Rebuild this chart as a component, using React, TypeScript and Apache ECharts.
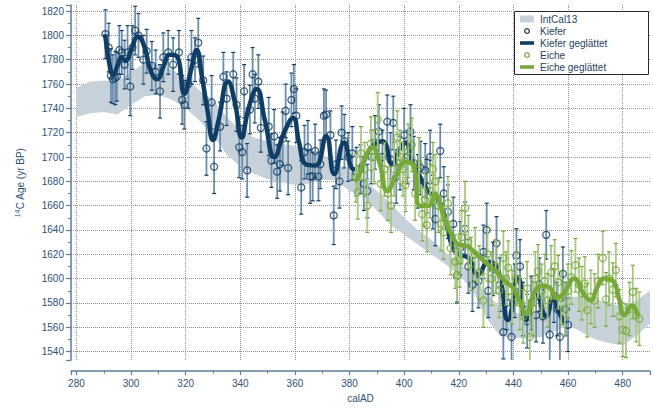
import React, { useEffect, useRef } from "react";
import * as echarts from "echarts";

// IntCal13 band
const bandYears = [280, 285, 290, 295, 300, 305, 310, 315, 320, 325, 330, 335, 340, 345, 350, 355, 360, 365, 370, 375, 380, 385, 390, 395, 400, 405, 410, 415, 420, 425, 430, 435, 440, 445, 450, 455, 460, 465, 470, 475, 480, 485, 490];
const bandLower = [1733, 1736, 1737, 1735, 1743, 1750, 1751, 1747, 1740, 1730, 1718, 1702, 1692, 1686, 1682, 1679, 1677, 1678, 1681, 1681, 1672, 1668, 1656, 1644, 1636, 1628, 1620, 1612, 1603, 1591, 1568, 1553, 1551, 1551, 1552, 1557, 1562, 1556, 1550, 1547, 1545, 1553, 1563];
const bandUpper = [1757, 1762, 1763, 1762, 1770, 1777, 1776, 1772, 1765, 1755, 1747, 1733, 1722, 1716, 1713, 1711, 1709, 1706, 1702, 1695, 1688, 1682, 1672, 1662, 1650, 1640, 1632, 1622, 1613, 1604, 1588, 1577, 1572, 1571, 1575, 1580, 1585, 1585, 1583, 1580, 1577, 1582, 1590];

// Kiefer (pine) measurements
const kieferYears = [290.6, 291.8, 292.6, 293.3, 294.2, 294.8, 295.7, 296.6, 297.6, 298.7, 299.7, 300.5, 301.5, 302.7, 304.5, 305.7, 307.6, 309.0, 310.6, 311.8, 313.6, 315.4, 317.5, 318.7, 319.5, 321.0, 322.1, 323.4, 324.6, 326.4, 327.6, 329.5, 330.4,
  332.6, 333.8, 335.0, 337.4, 338.6, 339.6, 340.7, 341.4, 342.5, 343.5, 344.5, 345.3, 346.6, 347.5, 350.4, 351.4, 352.4, 353.5, 354.5, 355.5, 356.6, 357.5, 358.7, 359.6, 360.5, 362.3, 363.5, 364.7, 365.6, 366.5, 367.4, 368.6, 369.3, 370.6, 371.4, 373.0, 374.2, 375.0, 376.3, 377.1, 378.1,
  379.5, 381.0, 382.5, 384.0, 385.2, 386.5, 388.0, 389.3, 390.7, 392.0, 393.8, 395.0, 396.0, 397.1, 398.5, 400.0, 401.2, 402.3, 403.5, 405.0, 406.0, 407.7, 408.3, 409.5, 410.5, 411.4, 413.2, 414.5, 416.0, 418.0,
  419.3, 420.5, 422.3, 423.5, 425.0, 427.2, 429.0, 430.2, 430.8, 432.5, 433.8, 435.0, 436.3, 437.5, 439.3, 440.5, 441.1, 442.4, 443.5, 445.0, 446.5, 448.3, 449.5, 450.8, 452.0, 453.3, 454.8, 456.0, 457.0, 458.1, 459.2, 460.0];
const kieferAges = [1801, 1790, 1767, 1764, 1765, 1766, 1788, 1786, 1776, 1786, 1758, 1790, 1804, 1800, 1780, 1787, 1775, 1770, 1754, 1782, 1786, 1776, 1786, 1747, 1743, 1760, 1782, 1780, 1794, 1763, 1707, 1745, 1692,
  1725, 1766, 1748, 1768, 1743, 1708, 1704, 1754, 1689, 1739, 1768, 1748, 1762, 1724, 1725, 1697, 1717, 1688, 1694, 1715, 1738, 1691, 1747, 1756, 1734, 1675, 1704, 1708, 1684, 1684, 1705, 1684, 1694, 1734, 1735, 1718, 1652, 1694, 1680, 1720, 1713,
  1700, 1703, 1688, 1690, 1678, 1672, 1700, 1712, 1721, 1700, 1729, 1698, 1728, 1684, 1695, 1718, 1700, 1721, 1695, 1680, 1691, 1689, 1676, 1700, 1663, 1649, 1705, 1670, 1655, 1645,
  1602, 1625, 1641, 1610, 1595, 1598, 1622, 1640, 1590, 1608, 1629, 1595, 1556, 1580, 1552, 1590, 1619, 1610, 1575, 1565, 1580, 1570, 1595, 1569, 1636, 1554, 1586, 1575, 1552, 1604, 1575, 1562];
const kieferErrs = [20, 20, 22, 20, 22, 20, 20, 18, 20, 22, 24, 18, 20, 18, 20, 18, 20, 18, 22, 20, 18, 22, 18, 20, 20, 20, 22, 18, 20, 20, 22, 22, 22,
  20, 20, 22, 18, 22, 25, 22, 22, 22, 20, 22, 20, 22, 20, 24, 22, 22, 22, 22, 22, 22, 22, 22, 20, 22, 22, 22, 22, 22, 20, 22, 20, 20, 22, 20, 20, 24, 20, 22, 22, 22,
  20, 22, 20, 20, 22, 22, 22, 22, 22, 22, 22, 22, 22, 22, 22, 22, 22, 22, 22, 22, 22, 22, 22, 22, 22, 22, 22, 22, 22, 22,
  22, 22, 22, 22, 22, 22, 22, 22, 22, 22, 22, 22, 22, 22, 22, 22, 22, 22, 22, 22, 22, 22, 22, 22, 20, 22, 22, 22, 22, 22, 22, 22];

// Kiefer smoothed
const kieferSmoothYears = [290.5, 292.5, 293.5, 295, 296.5, 298, 300, 302.5, 305, 307, 309.5, 312, 314, 316.7, 319.5, 322, 324, 326, 328, 330, 332, 335.5, 338, 340.5, 343, 346, 349, 352.5, 356, 359.3, 361.5, 364, 367.5, 371.4, 374.4, 378, 381.6, 384, 388, 392, 395.6, 398, 400.5, 403, 406.5, 409, 411.5, 413.5, 415.6, 418.7, 423.5, 427, 430.8, 434.5, 438, 441.7, 444.7, 448.3, 452, 454.5, 456.3, 459];
const kieferSmoothAges = [1801, 1771, 1768, 1775, 1782, 1779, 1788, 1799, 1790, 1772, 1764, 1775, 1784, 1783, 1752, 1772, 1788, 1765, 1738, 1714, 1730, 1762, 1745, 1716, 1740, 1756, 1730, 1700, 1720, 1732, 1712, 1694, 1693, 1717, 1686, 1712, 1690, 1692, 1708, 1713, 1694, 1705, 1712, 1695, 1681, 1671, 1668, 1660, 1644, 1622, 1617, 1603, 1614, 1606, 1566, 1601, 1566, 1587, 1569, 1585, 1574, 1563];

// Eiche (oak) measurements
const eicheYears = [382.3, 383.0, 384.2, 385.5, 386.5, 387.8, 389.0, 390.3, 391.4, 392.8, 394.0, 395.2, 396.3, 397.5, 398.5, 399.5, 400.5, 401.5, 402.8, 404.0, 405.4, 406.6, 407.5, 408.3, 409.5, 410.5, 411.4, 412.5, 413.5, 414.4, 416.0, 417.0, 418.7, 419.3, 420.3, 421.0, 422.3, 423.5, 424.5, 426.0, 427.5, 429.0, 430.5, 432.0, 433.5, 434.8, 436.3, 437.3, 438.1, 439.5, 441.0, 442.3, 443.6, 445.0, 446.0, 447.2, 448.0, 449.0, 450.3, 451.5, 452.5, 453.8, 455.1, 456.4, 457.5, 458.8, 460.0, 461.2, 462.7, 464.0, 465.0, 466.1, 467.0, 468.3, 469.7, 471.0, 472.7, 473.9, 475.0, 476.4, 477.5, 478.8, 480.0, 481.2, 482.5, 483.7, 485.0, 486.1];
const eicheAges = [1683, 1671, 1703, 1690, 1660, 1711, 1700, 1731, 1678, 1690, 1670, 1660, 1690, 1716, 1700, 1690, 1677, 1705, 1710, 1670, 1694, 1653, 1665, 1644, 1672, 1690, 1680, 1660, 1645, 1638, 1662, 1625, 1614, 1603, 1615, 1634, 1658, 1630, 1612, 1620, 1605, 1582, 1620, 1600, 1610, 1590, 1617, 1600, 1609, 1585, 1600, 1580, 1569, 1592, 1552, 1575, 1600, 1606, 1590, 1598, 1582, 1605, 1610, 1597, 1584, 1575, 1590, 1601, 1611, 1595, 1588, 1596, 1574, 1585, 1582, 1598, 1617, 1583, 1600, 1591, 1607, 1569, 1558, 1557, 1575, 1589, 1570, 1567];
const eicheErrs = [20, 22, 22, 22, 22, 22, 22, 22, 22, 22, 22, 22, 22, 22, 22, 22, 22, 22, 22, 22, 22, 22, 22, 22, 22, 22, 22, 22, 22, 22, 22, 22, 22, 22, 22, 22, 22, 22, 22, 22, 22, 22, 22, 22, 22, 22, 22, 22, 22, 22, 22, 22, 22, 22, 22, 22, 22, 22, 22, 22, 22, 22, 22, 22, 22, 22, 22, 22, 22, 22, 22, 22, 22, 22, 22, 22, 22, 22, 22, 22, 22, 22, 22, 22, 22, 22, 22, 22];

// Eiche smoothed
const eicheSmoothYears = [382, 383.5, 385, 388.5, 391, 393.8, 397, 400.5, 403.5, 405.8, 409, 411.4, 414.4, 417, 420, 422.8, 426, 430, 434, 437.4, 440, 442.5, 444.7, 447.5, 450.5, 453, 455.8, 458.5, 462.3, 465.5, 468.4, 470.5, 473.3, 476.5, 478.5, 480.6, 483.5, 485.5];
const eicheSmoothAges = [1680, 1685, 1695, 1708, 1695, 1672, 1684, 1696, 1693, 1660, 1660, 1669, 1652, 1638, 1628, 1627, 1621, 1613, 1605, 1597, 1592, 1580, 1571, 1588, 1594, 1593, 1584, 1588, 1600, 1588, 1582, 1592, 1600, 1598, 1585, 1570, 1578, 1569];

const legendLabels = ["IntCal13", "Kiefer", "Kiefer geglättet", "Eiche", "Eiche geglättet"];

const FONT = "'Liberation Sans', Arial, Helvetica, sans-serif";
const DARK = "#0f3d63";
const DARK_BAR = "#6d8eab";
const GREEN = "#77a83a";
const GREEN_BAR = "#a9c886";
const BAND = "#c7d1d9";
const AXIS = "#5b7d99";
const LABEL = "#2e5274";

function errorBarRender(capColor: string, barColor: string) {
  return (params: any, api: any) => {
    const x = api.value(0);
    const y = api.value(1);
    const e = api.value(2);
    const top = api.coord([x, y + e]);
    const bot = api.coord([x, y - e]);
    const hw = 2;
    return {
      type: "group",
      children: [
        { type: "line", shape: { x1: top[0], y1: top[1], x2: bot[0], y2: bot[1] }, style: { stroke: barColor, lineWidth: 1.8 } },
        { type: "line", shape: { x1: top[0] - hw, y1: top[1], x2: top[0] + hw, y2: top[1] }, style: { stroke: capColor, lineWidth: 1.2 } },
        { type: "line", shape: { x1: bot[0] - hw, y1: bot[1], x2: bot[0] + hw, y2: bot[1] }, style: { stroke: capColor, lineWidth: 1.2 } },
      ],
    };
  };
}

function bandRender(params: any, api: any) {
  if (params.dataIndex !== 0) return null;
  const pts: number[][] = [];
  for (let i = 0; i < bandYears.length; i++) pts.push(api.coord([bandYears[i], bandUpper[i]]));
  for (let i = bandYears.length - 1; i >= 0; i--) pts.push(api.coord([bandYears[i], bandLower[i]]));
  return { type: "polygon", shape: { points: pts }, style: { fill: BAND } };
}

export default function App() {
  const ref = useRef<HTMLDivElement>(null);
  useEffect(() => {
    const chart = echarts.init(ref.current!, null, { renderer: "svg" });

    const bandData = bandYears.map((x, i) => [x, bandLower[i], bandUpper[i]]);
    const kieferData = kieferYears.map((x, i) => [x, kieferAges[i], kieferErrs[i]]);
    const eicheData = eicheYears.map((x, i) => [x, eicheAges[i], eicheErrs[i]]);
    const kieferSmooth = kieferSmoothYears.map((x, i) => [x, kieferSmoothAges[i]]);
    const eicheSmooth = eicheSmoothYears.map((x, i) => [x, eicheSmoothAges[i]]);

    const rowY = [19, 31, 43, 55, 67];
    const legendGraphics: any[] = [
      { type: "rect", z: 100, shape: { x: 514.5, y: 11.5, width: 134, height: 63 }, style: { fill: "#ffffff", stroke: "#2a2a2a", lineWidth: 1 } },
      { type: "rect", z: 101, shape: { x: 520, y: rowY[0] - 3.5, width: 14, height: 7 }, style: { fill: BAND } },
      { type: "circle", z: 101, shape: { cx: 527, cy: rowY[1], r: 2.3 }, style: { fill: "none", stroke: DARK, lineWidth: 1.3 } },
      { type: "rect", z: 101, shape: { x: 520, y: rowY[2] - 1.8, width: 14, height: 3.6 }, style: { fill: DARK } },
      { type: "circle", z: 101, shape: { cx: 527, cy: rowY[3], r: 2.3 }, style: { fill: "none", stroke: GREEN, lineWidth: 1.3 } },
      { type: "rect", z: 101, shape: { x: 520, y: rowY[4] - 1.8, width: 14, height: 3.6 }, style: { fill: GREEN } },
    ];
    legendLabels.forEach((t, i) => {
      legendGraphics.push({
        type: "text", z: 101, x: 540, y: rowY[i],
        style: { text: t, fill: "#1e3f60", font: `10px ${FONT}`, textVerticalAlign: "middle", verticalAlign: "middle" },
      });
    });

    const option: any = {
      animation: false,
      backgroundColor: "#ffffff",
      grid: { left: 71, right: 0, top: 5, bottom: 41, containLabel: false },
      xAxis: {
        type: "value", min: 278, max: 490, minInterval: 20, maxInterval: 20, splitNumber: 10,
        offset: 11,
        axisLine: { show: true, onZero: false, lineStyle: { color: AXIS, width: 1.5 } },
        axisTick: { show: true, length: 4, lineStyle: { color: AXIS, width: 1.2 } },
        minorTick: { show: true, splitNumber: 2, length: 2.5, lineStyle: { color: AXIS, width: 1 } },
        axisLabel: { color: LABEL, fontSize: 10, fontFamily: FONT, margin: 7, formatter: (v: number) => (v % 20 === 0 ? String(v) : "") },
        splitLine: { show: true, showMinLine: false, showMaxLine: false, lineStyle: { type: "dotted", color: "#8c8c8c", width: 1 } },
        name: "calAD", nameLocation: "middle", nameGap: 20,
        nameTextStyle: { color: LABEL, fontSize: 10, fontFamily: FONT },
      },
      yAxis: {
        type: "value", min: 1533, max: 1825, minInterval: 20, maxInterval: 20, splitNumber: 14,
        axisLine: { show: true, onZero: false, lineStyle: { color: AXIS, width: 1.5 } },
        axisTick: { show: true, length: 5, lineStyle: { color: AXIS, width: 1.2 } },
        minorTick: { show: true, splitNumber: 2, length: 3, lineStyle: { color: AXIS, width: 1 } },
        axisLabel: { color: LABEL, fontSize: 10, fontFamily: FONT, margin: 7, formatter: (v: number) => (v % 20 === 0 ? String(v) : "") },
        splitLine: { show: true, showMinLine: false, showMaxLine: false, lineStyle: { type: "dotted", color: "#8c8c8c", width: 1 } },
        name: "{sup|14}C Age (yr BP)", nameLocation: "middle", nameGap: 44, nameRotate: 90,
        nameTextStyle: {
          color: LABEL, fontSize: 10, fontFamily: FONT, lineHeight: 13,
          rich: { sup: { fontSize: 7, fontFamily: FONT, color: LABEL, verticalAlign: "top", lineHeight: 13 } },
        },
      },
      series: [
        {
          name: "IntCal13", type: "custom", data: bandData, renderItem: bandRender,
          encode: { x: 0, y: [1, 2] }, silent: true, z: 1, clip: true,
        },
        {
          name: "kieferErr", type: "custom", data: kieferData, renderItem: errorBarRender(DARK, DARK_BAR),
          encode: { x: 0, y: 1 }, z: 2, clip: true,
        },
        {
          name: "Kiefer", type: "scatter", data: kieferData.map((d) => [d[0], d[1]]), symbol: "circle", symbolSize: 7,
          itemStyle: { color: "rgba(255,255,255,0)", borderColor: DARK, borderWidth: 1.3 }, z: 3,
        },
        {
          name: "Kiefer geglättet", type: "line", data: kieferSmooth, symbol: "none", smooth: 0.5,
          lineStyle: { color: DARK, width: 4.5 }, z: 4,
        },
        {
          name: "eicheErr", type: "custom", data: eicheData, renderItem: errorBarRender(GREEN, GREEN_BAR),
          encode: { x: 0, y: 1 }, z: 5, clip: true,
        },
        {
          name: "Eiche", type: "scatter", data: eicheData.map((d) => [d[0], d[1]]), symbol: "circle", symbolSize: 7,
          itemStyle: { color: "rgba(255,255,255,0)", borderColor: GREEN, borderWidth: 1.3 }, z: 6,
        },
        {
          name: "Eiche geglättet", type: "line", data: eicheSmooth, symbol: "none", smooth: 0.5,
          lineStyle: { color: GREEN, width: 4.5 }, z: 7,
        },
      ],
      graphic: legendGraphics,
    };
    chart.setOption(option);
    return () => chart.dispose();
  }, []);
  return <div ref={ref} style={{ position: "fixed", left: 0, top: 0, width: 653, height: 408 }} />;
}
